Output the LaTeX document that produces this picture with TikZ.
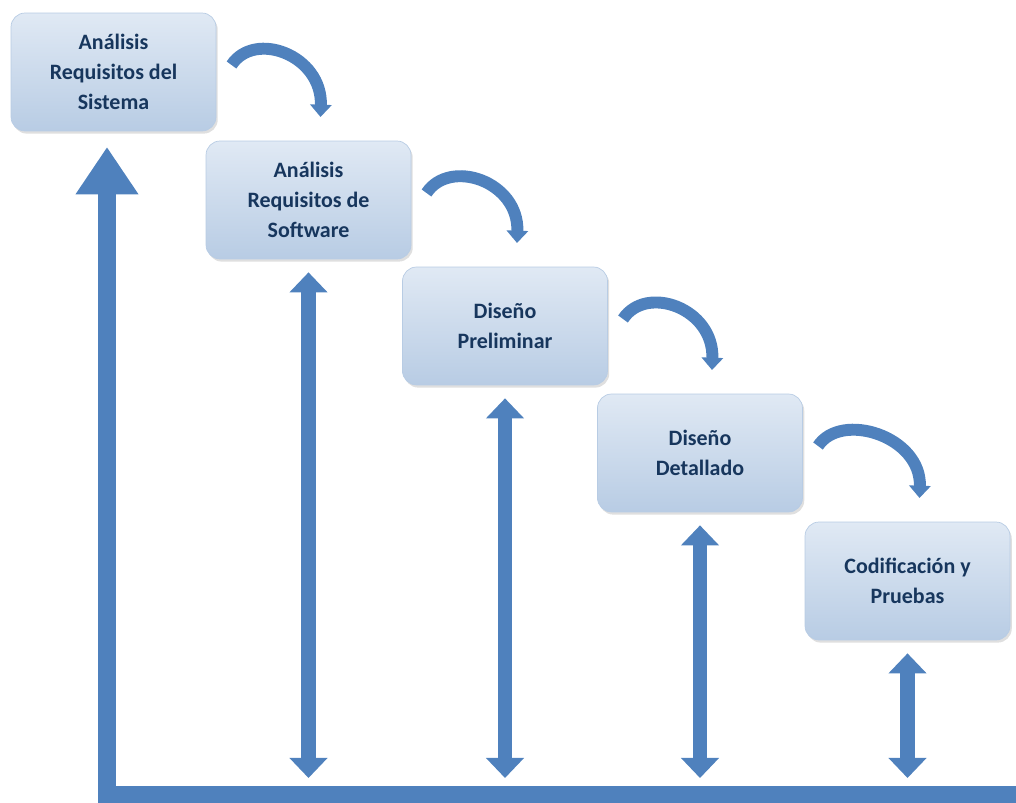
\documentclass[tikz,border=0pt]{standalone}
\usepackage{fontspec}
\setmainfont{Carlito}
\usetikzlibrary{calc,arrows.meta,shadows,positioning}
\definecolor{flecha}{RGB}{79,129,189}
\definecolor{texto}{RGB}{23,54,93}
\definecolor{cajaarr}{RGB}{224,233,244}
\definecolor{cajaab}{RGB}{184,204,228}

\begin{document}
\begin{tikzpicture} [x=0.02cm,y=-0.02cm,{etapa/.style={rectangle,rounded corners=8pt,minimum width=4.1cm,minimum height=2.36cm,top color=cajaarr,bottom color=cajaab,draw=cajaab,thin,align=center,text=texto,font=\bfseries\fontsize{12.5}{17}\selectfont,drop shadow={opacity=0.25,shadow xshift=1pt,shadow yshift=-1.5pt}}},{flechad/.style={draw=flecha,line width=8.5pt,{Triangle[width=21pt 0,length=11.4pt 0]}-{Triangle[width=21pt 0,length=11.4pt 0]}}},{flechac/.style={draw=flecha,line width=6.8pt,-{Triangle[width=12pt 0,length=7pt 0]}}},{flechag/.style={draw=flecha,line width=10.2pt,line join=miter,-{Triangle[width=34pt 0,length=27pt 0]}}}]
	\useasboundingbox (0,0) rectangle (1016,803);
	%%etapas
	\node [etapa] (sis) at (113.5,72) {Análisis\\Requisitos del\\Sistema};
	\node [etapa] (sw) at (308.5,200) {Análisis\\Requisitos de\\Software};
	\node [etapa] (pre) at (505,326) {Diseño\\Preliminar};
	\node [etapa] (det) at (700,453) {Diseño\\Detallado};
	\node [etapa] (cod) at (907.5,581) {Codificación y\\Pruebas};
	%%linea de retorno
	\coordinate (esq) at (107,795);
	\coordinate (fin) at (1030,795);
	\coordinate (tope) at (107,147);
	\coordinate (base) at (0,778);
	\draw [flechag] (fin) -- (esq) -- (tope);
	%%flechas curvas
	\foreach \a/\b in {sis/sw,sw/pre,pre/det,det/cod}
		\draw [flechac] ($(\a.center)+(118,-7)$) .. controls +(23,-35) and +(2,-62) .. ($(\b.center)+(12,-83)$);
	%%flechas dobles
	\foreach \b in {sw,pre,det,cod}
		\draw [flechad] ($(\b.south)+(0,13)$) -- (\b.south |- base);
\end{tikzpicture}
\end{document}
